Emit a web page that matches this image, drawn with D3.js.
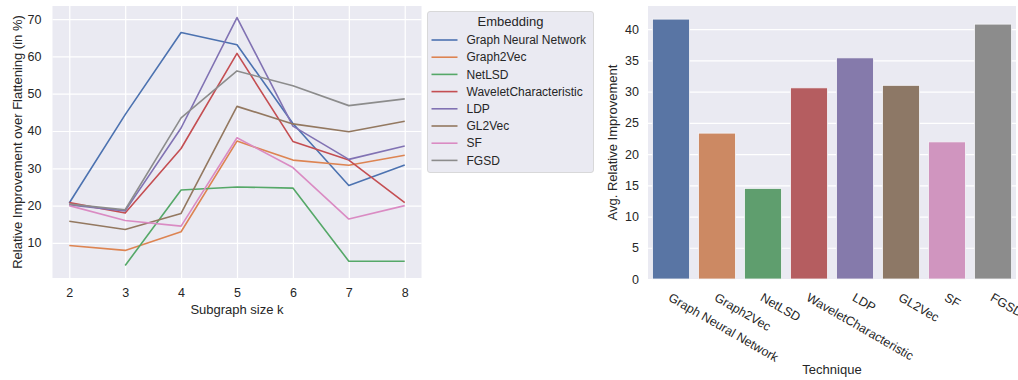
<!DOCTYPE html>
<html>
<head>
<meta charset="utf-8">
<script src="https://cdn.jsdelivr.net/npm/d3@7"></script>
<style>
  body { margin: 0; background: #fff; }
  svg { font-family: "Liberation Sans", Arial, sans-serif; }
  .grid line { stroke: #fff; stroke-width: 1.2px; }
  .grid path { display: none; }
  .tick text { fill: #262626; font-size: 12.5px; }
  .axis path, .axis line { display: none; }
</style>
</head>
<body>
<svg id="chart" width="1018" height="380"></svg>
<script>
// subgraph sizes and embeddings
var kValues = [2, 3, 4, 5, 6, 7, 8];
var embeddings = ["Graph Neural Network", "Graph2Vec", "NetLSD", "WaveletCharacteristic", "LDP", "GL2Vec", "SF", "FGSD"];

// relative improvement over flattening (in %) per k
var gnnVals     = [20.7, 44.4, 66.4, 63.1, 42.0, 25.4, 30.9];
var graph2vecVals = [9.3, 8.0, 13.0, 37.3, 32.2, 30.8, 33.5];
var netlsdVals  = [null, 3.95, 24.2, 25.0, 24.7, 5.1, 5.1];
var waveletVals = [20.8, 18.0, 35.3, 60.8, 37.2, 32.2, 20.8];
var ldpVals     = [20.2, 18.6, 40.8, 70.4, 41.3, 32.4, 36.0];
var gl2vecVals  = [15.8, 13.6, 17.9, 46.6, 41.9, 39.8, 42.6];
var sfVals      = [20.0, 16.0, 14.5, 38.2, 30.2, 16.4, 20.0];
var fgsdVals    = [20.4, 18.9, 43.5, 56.1, 52.1, 46.8, 48.6];

// average relative improvement per technique
var avgImprovement = [41.6, 23.35, 14.5, 30.6, 35.4, 31.0, 21.95, 40.8];

var leftTicks = [10, 20, 30, 40, 50, 60, 70];
var rightTicks = [0, 5, 10, 15, 20, 25, 30, 35, 40];

var lineColors = ["#4c72b0", "#dd8452", "#55a868", "#c44e52", "#8172b3", "#937860", "#da8bc3", "#8c8c8c"];
var barColors  = ["#5975a4", "#cc8963", "#5f9e6e", "#b55d60", "#857aab", "#8d7866", "#d095bf", "#8c8c8c"];

var seriesVals = [gnnVals, graph2vecVals, netlsdVals, waveletVals, ldpVals, gl2vecVals, sfVals, fgsdVals];
var data = embeddings.map(function (name, i) {
  return { group: name, values: kValues.map(function (k, j) { return { k: k, v: seriesVals[i][j] }; }) };
});

var svg = d3.select("#chart");

// ---------- left: line chart ----------
var x = d3.scaleLinear().domain([1.7, 8.3]).range([52.5, 421.5]);
var y = d3.scaleLinear().domain([0.6, 73.5]).range([278, 6]);

var left = svg.append("g");
left.append("rect")
  .attr("x", x.range()[0]).attr("y", y.range()[1])
  .attr("width", x.range()[1] - x.range()[0])
  .attr("height", y.range()[0] - y.range()[1])
  .attr("fill", "#eaeaf2");

left.append("g")
  .attr("class", "grid")
  .attr("transform", "translate(0," + y.range()[0] + ")")
  .call(d3.axisBottom(x).tickValues(kValues).tickSize(-(y.range()[0] - y.range()[1])).tickFormat(""));

left.append("g")
  .attr("class", "grid")
  .attr("transform", "translate(" + x.range()[0] + ",0)")
  .call(d3.axisLeft(y).tickValues(leftTicks).tickSize(-(x.range()[1] - x.range()[0])).tickFormat(""));

left.append("g")
  .attr("class", "axis")
  .attr("transform", "translate(0," + y.range()[0] + ")")
  .call(d3.axisBottom(x).tickValues(kValues).tickFormat(d3.format("d")).tickSize(0).tickPadding(10));

left.append("g")
  .attr("class", "axis")
  .attr("transform", "translate(" + x.range()[0] + ",0)")
  .call(d3.axisLeft(y).tickValues(leftTicks).tickSize(0).tickPadding(11));

var line = d3.line()
  .defined(function (d) { return d.v != null; })
  .x(function (d) { return x(d.k); })
  .y(function (d) { return y(d.v); });

left.selectAll(".line")
  .data(data)
  .enter().append("path")
  .attr("class", "line")
  .attr("d", function (d) { return line(d.values); })
  .attr("fill", "none")
  .attr("stroke", function (d, i) { return lineColors[i]; })
  .attr("stroke-width", 1.6)
  .attr("stroke-linejoin", "round");

left.append("text")
  .attr("x", (x.range()[0] + x.range()[1]) / 2)
  .attr("y", 314)
  .attr("text-anchor", "middle")
  .style("font-size", "13px")
  .attr("fill", "#262626")
  .text("Subgraph size k");

left.append("text")
  .attr("transform", "translate(22," + (y.range()[0] + y.range()[1]) / 2 + ") rotate(-90)")
  .attr("text-anchor", "middle")
  .style("font-size", "13px")
  .attr("fill", "#262626")
  .text("Relative Improvement over Flattening (in %)");

// legend
var legend = svg.append("g").attr("transform", "translate(427.5,11.5)");
legend.append("rect")
  .attr("width", 166).attr("height", 161)
  .attr("rx", 2.5)
  .attr("fill", "#eaeaf2")
  .attr("stroke", "#d0d0d0")
  .attr("stroke-width", 0.8);
legend.append("text")
  .attr("x", 83).attr("y", 14.5)
  .attr("text-anchor", "middle")
  .style("font-size", "13px")
  .attr("fill", "#262626")
  .text("Embedding");
var items = legend.selectAll(".item")
  .data(embeddings)
  .enter().append("g")
  .attr("transform", function (d, i) { return "translate(0," + (28.5 + i * 17.2) + ")"; });
items.append("line")
  .attr("x1", 4).attr("x2", 30)
  .attr("stroke", function (d, i) { return lineColors[i]; })
  .attr("stroke-width", 1.6);
items.append("text")
  .attr("x", 39).attr("dy", "0.35em")
  .style("font-size", "12px")
  .attr("fill", "#262626")
  .text(function (d) { return d; });

// ---------- right: bar chart ----------
var xb = d3.scaleBand().domain(embeddings).range([648, 1016]).paddingInner(0.2).paddingOuter(0.1);
var yb = d3.scaleLinear().domain([0, 43.7]).range([279, 6]);

var right = svg.append("g");
right.append("rect")
  .attr("x", 648).attr("y", yb.range()[1])
  .attr("width", 1016 - 648)
  .attr("height", yb.range()[0] - yb.range()[1])
  .attr("fill", "#eaeaf2");

right.append("g")
  .attr("class", "grid")
  .attr("transform", "translate(648,0)")
  .call(d3.axisLeft(yb).tickValues(rightTicks).tickSize(-(1016 - 648)).tickFormat(""));

right.append("g")
  .attr("class", "axis")
  .attr("transform", "translate(648,0)")
  .call(d3.axisLeft(yb).tickValues(rightTicks).tickSize(0).tickPadding(9));

right.selectAll(".bar")
  .data(embeddings)
  .enter().append("rect")
  .attr("class", "bar")
  .attr("x", function (d) { return xb(d); })
  .attr("width", xb.bandwidth())
  .attr("y", function (d, i) { return yb(avgImprovement[i]); })
  .attr("height", function (d, i) { return yb(0) - yb(avgImprovement[i]); })
  .attr("fill", function (d, i) { return barColors[i]; })
  .attr("stroke", "#f4f4f8")
  .attr("stroke-width", 0.8);

right.selectAll(".xlabel")
  .data(embeddings)
  .enter().append("text")
  .attr("class", "xlabel")
  .attr("transform", function (d) {
    return "translate(" + (xb(d) + xb.bandwidth() / 2 - 3.5) + ",300) rotate(30)";
  })
  .style("font-size", "12.5px")
  .attr("fill", "#262626")
  .text(function (d) { return d; });

right.append("text")
  .attr("x", (648 + 1016) / 2)
  .attr("y", 374)
  .attr("text-anchor", "middle")
  .style("font-size", "13px")
  .attr("fill", "#262626")
  .text("Technique");

right.append("text")
  .attr("transform", "translate(617," + (yb.range()[0] + yb.range()[1]) / 2 + ") rotate(-90)")
  .attr("text-anchor", "middle")
  .style("font-size", "13px")
  .attr("fill", "#262626")
  .text("Avg. Relative Improvement");
</script>
</body>
</html>
